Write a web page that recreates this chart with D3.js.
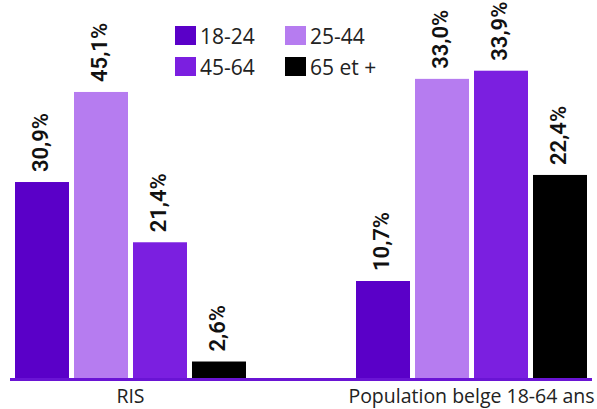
<!DOCTYPE html>
<html>
<head>
<meta charset="utf-8">
<script src="https://cdn.jsdelivr.net/npm/d3@7"></script>
<style>
  body { margin: 0; background: #fff; }
  text { font-family: "Open Sans", "Noto Sans", sans-serif; }
</style>
</head>
<body>
<svg id="chart" width="597" height="409"></svg>
<script>
var groups = ["RIS", "Population belge 18-64 ans"]
var ages = ["18-24", "25-44", "45-64", "65 et +"]
var valuesRIS = [30.9, 45.1, 21.4, 2.6]
var valuesPop = [10.7, 33.0, 33.9, 22.4]
// each group is drawn on its own scale in the original
var groupMax = [59.6, 41.7]

var colors = ["#5A00C8", "#B67CF0", "#7B1FE0", "#000000"]

var svg = d3.select("#chart")
var baseline = 378

var x0 = d3.scaleBand().domain(groups).range([15, 587]).paddingInner(0.3226)
var x1 = d3.scaleBand().domain(ages).range([0, x0.bandwidth()]).paddingInner(5 / 59)
var color = d3.scaleOrdinal().domain(ages).range(colors)

var series = [valuesRIS, valuesPop]

groups.forEach(function (g, gi) {
  var y = d3.scaleLinear().domain([0, groupMax[gi]]).range([baseline, 0])
  var data = ages.map(function (a, i) { return { age: a, value: series[gi][i] } })
  var grp = svg.append("g").attr("transform", "translate(" + x0(g) + ",0)")

  grp.selectAll("rect")
    .data(data)
    .enter().append("rect")
    .attr("x", function (d) { return x1(d.age) })
    .attr("y", function (d) { return y(d.value) })
    .attr("width", x1.bandwidth())
    .attr("height", function (d) { return baseline - y(d.value) })
    .style("fill", function (d) { return color(d.age) })

  grp.selectAll("text.val")
    .data(data)
    .enter().append("text")
    .attr("class", "val")
    .attr("transform", function (d) {
      return "translate(" + (x1(d.age) + x1.bandwidth() / 2 - 2) + "," + (y(d.value) - 10) + ") rotate(-90)"
    })
    .attr("dy", "0.35em")
    .style("font-family", "Roboto, sans-serif")
    .style("font-size", "22px")
    .style("font-weight", "600")
    .style("fill", "#111")
    .text(function (d) { return d3.format(".1f")(d.value).replace(".", ",") + "%" })

  svg.append("text")
    .attr("x", x0(g) + x0.bandwidth() / 2)
    .attr("y", 403)
    .attr("text-anchor", "middle")
    .style("font-size", "19.5px")
    .style("fill", "#222")
    .text(g)
})

// axis line
svg.append("line")
  .attr("x1", 10).attr("x2", 592)
  .attr("y1", baseline + 1.5).attr("y2", baseline + 1.5)
  .style("stroke", "#6A14D4")
  .style("stroke-width", 3)

// legend 2x2
var legend = svg.append("g")
ages.forEach(function (a, i) {
  var lx = 175 + (i % 2) * 110
  var ly = 26 + Math.floor(i / 2) * 31
  legend.append("rect")
    .attr("x", lx).attr("y", ly)
    .attr("width", 21).attr("height", 19)
    .style("fill", color(a))
  legend.append("text")
    .attr("x", lx + 25).attr("y", ly + 18)
    .style("font-size", "21px")
    .style("fill", "#222")
    .text(a)
})
</script>
</body>
</html>
